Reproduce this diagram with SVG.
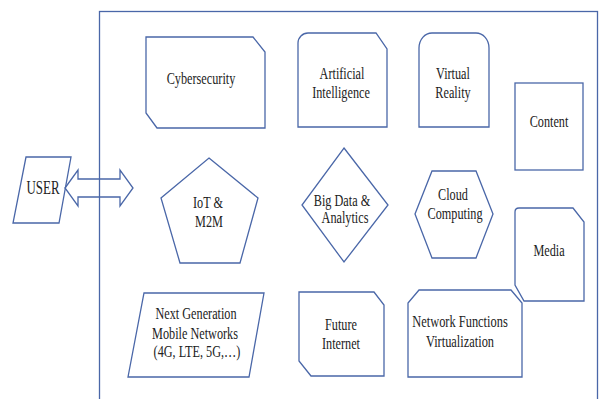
<svg xmlns="http://www.w3.org/2000/svg" width="601" height="399" viewBox="0 0 601 399">
  <style>
    .shape { fill: #ffffff; stroke: #4a67a8; stroke-width: 1.3; stroke-linejoin: miter; }
    .frame { fill: none; stroke: #4a67a8; stroke-width: 1.3; }
    .link { fill: none; stroke: #4a67a8; stroke-width: 1.3; stroke-linejoin: miter; }
    .t { font-family: "Liberation Serif", "Times New Roman", serif; font-size: 17px; fill: #222222; text-anchor: middle; }
    .big { font-size: 18.5px; }
  </style>

  <!-- platform boundary -->
  <rect class="frame" x="99.5" y="11.5" width="498" height="400"/>

  <g id="user">
    <polygon class="shape" points="26,157 71,157 59,223 13,223"/>
    <text class="t big" transform="matrix(0.7 0 0 1 43 194)">USER</text>
  </g>

  <g id="cybersecurity">
    <path class="shape" d="M146,37 H253 L265,52 V128 H157 L146,113 Z"/>
    <text class="t" transform="matrix(0.72 0 0 1 201 84)">Cybersecurity</text>
  </g>

  <g id="artificial-intelligence">
    <path class="shape" d="M298,127 V43 A10,10 0 0 1 308,33 H376 L387,49 V127 Z"/>
    <text class="t" transform="matrix(0.72 0 0 1 342 79)">Artificial</text>
    <text class="t" transform="matrix(0.72 0 0 1 341 98)">Intelligence</text>
  </g>

  <g id="virtual-reality">
    <path class="shape" d="M419,127 V48 A13,15 0 0 1 432,33 H476 A13,15 0 0 1 489,48 V127 Z"/>
    <text class="t" transform="matrix(0.72 0 0 1 453 79)">Virtual</text>
    <text class="t" transform="matrix(0.72 0 0 1 453 98)">Reality</text>
  </g>

  <g id="content">
    <rect class="shape" x="515" y="83" width="68" height="87"/>
    <text class="t" transform="matrix(0.72 0 0 1 549 127)">Content</text>
  </g>

  <g id="iot-m2m">
    <polygon class="shape" points="209,158 258,198 240,263 180,263 161,198"/>
    <text class="t" transform="matrix(0.72 0 0 1 208 208)">IoT &amp;</text>
    <text class="t" transform="matrix(0.72 0 0 1 209 227)">M2M</text>
  </g>

  <g id="big-data">
    <polygon class="shape" points="344,148 388,205 344,262 302,205"/>
    <text class="t" transform="matrix(0.72 0 0 1 342 206)">Big Data &amp;</text>
    <text class="t" transform="matrix(0.72 0 0 1 345 223)">Analytics</text>
  </g>

  <g id="cloud-computing">
    <polygon class="shape" points="432,171 476,171 493,214 476,258 432,258 415,214"/>
    <text class="t" transform="matrix(0.72 0 0 1 453 200)">Cloud</text>
    <text class="t" transform="matrix(0.72 0 0 1 455 219)">Computing</text>
  </g>

  <g id="media">
    <path class="shape" d="M519,208 H573 L584,222 V301 H524 L515,285 V212 Q515,208 519,208 Z"/>
    <text class="t" transform="matrix(0.72 0 0 1 549 256)">Media</text>
  </g>

  <g id="mobile-networks">
    <polygon class="shape" points="144,293 264,293 249,377 128,377"/>
    <text class="t" transform="matrix(0.72 0 0 1 196 319)">Next Generation</text>
    <text class="t" transform="matrix(0.72 0 0 1 195 339)">Mobile Networks</text>
    <text class="t" transform="matrix(0.72 0 0 1 197 357)">(4G, LTE, 5G,…)</text>
  </g>

  <g id="future-internet">
    <path class="shape" d="M299,292 H374 L384,305 V376 H311 L299,361 Z"/>
    <text class="t" transform="matrix(0.72 0 0 1 341 330)">Future</text>
    <text class="t" transform="matrix(0.72 0 0 1 341 349)">Internet</text>
  </g>

  <g id="nfv">
    <path class="shape" d="M419,290 H511 L522,303 V377 H408 V303 Z"/>
    <text class="t" transform="matrix(0.73 0 0 1 460 327)">Network Functions</text>
    <text class="t" transform="matrix(0.73 0 0 1 460 347)">Virtualization</text>
  </g>

  <g id="connectors">
    <!-- two-way block arrow between the user and the platform -->
    <path class="link" d="M65,188 L78,170 V179 H120 V170 L133,188 L120,206 V197 H78 V206 Z"/>
  </g>
</svg>
